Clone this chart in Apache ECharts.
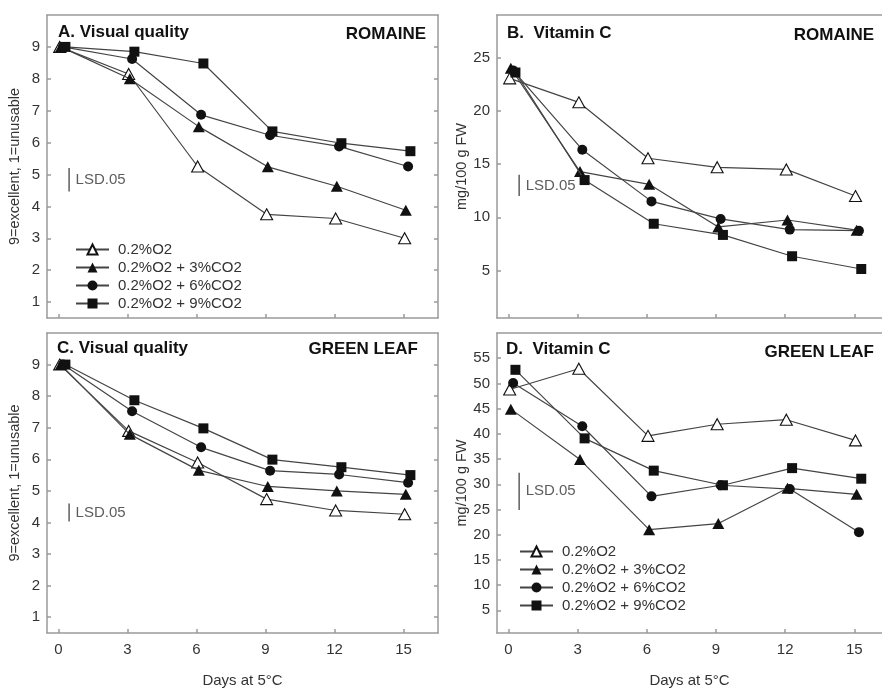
<!DOCTYPE html>
<html>
<head>
<meta charset="utf-8">
<script src="https://cdn.jsdelivr.net/npm/echarts@6/dist/echarts.min.js"></script>
<style>
html, body { margin: 0; padding: 0; background: #fff; }
#main { width: 882px; height: 689px; }
</style>
</head>
<body>
<div id="main"></div>
<script>
// ---- data ----
var seriesNames = ['0.2%O2', '0.2%O2 + 3%CO2', '0.2%O2 + 6%CO2', '0.2%O2 + 9%CO2'];
var days = [0, 3, 6, 9, 12, 15];
var dayShift = [0.05, 0.1, 0.2, 0.3];   // treatments are drawn slightly apart on the x axis

var qualityTicks = [1, 2, 3, 4, 5, 6, 7, 8, 9];
var vitRomTicks = [5, 10, 15, 20, 25];
var vitGreenTicks = [5, 10, 15, 20, 25, 30, 35, 40, 45, 50, 55];

// A. visual quality, romaine
var romQualO2 = [9, 8.15, 5.25, 3.75, 3.62, 3.0];
var romQualCO3 = [9, 8.0, 6.5, 5.24, 4.63, 3.88];
var romQualCO6 = [9, 8.62, 6.87, 6.23, 5.88, 5.25];
var romQualCO9 = [9, 8.85, 8.48, 6.35, 5.98, 5.73];

// B. vitamin C, romaine
var romVitO2 = [23.05, 20.8, 15.55, 14.7, 14.5, 12.0];
var romVitCO3 = [24.0, 14.3, 13.1, 9.1, 9.75, 8.8];
var romVitCO6 = [23.8, 16.35, 11.5, 9.85, 8.85, 8.75];
var romVitCO9 = [23.6, 13.5, 9.4, 8.35, 6.35, 5.15];

// C. visual quality, green leaf
var greQualO2 = [9, 6.9, 5.9, 4.74, 4.38, 4.26];
var greQualCO3 = [9, 6.79, 5.65, 5.14, 5.0, 4.89];
var greQualCO6 = [9, 7.52, 6.38, 5.64, 5.52, 5.26];
var greQualCO9 = [9, 7.87, 6.98, 5.99, 5.75, 5.5];

// D. vitamin C, green leaf
var greVitO2 = [48.8, 52.9, 39.6, 41.9, 42.8, 38.7];
var greVitCO3 = [44.9, 34.9, 21.0, 22.2, 29.2, 28.0];
var greVitCO6 = [50.1, 41.5, 27.6, 29.8, 29.05, 20.5];
var greVitCO9 = [52.7, 39.1, 32.7, 29.8, 33.2, 31.1];

// LSD.05 bar lengths and where their lower end sits
var lsdValues = [0.73, 2.0, 0.57, 7.4];
var lsdBase = [4.47, 12.0, 4.03, 24.9];

// ---- layout ----
var FONT = '"Liberation Sans", Arial, sans-serif';
var TXT = '#333';
var FRAME = '#9a9a9a';

// right-hand panels run off the edge of the picture, so no right border there
var panels = [
  { left: 47, top: 15, width: 391, height: 303, yMin: 0.5, yMax: 10, xMax: 16.5, ticks: qualityTicks,
    showX: false, rightEdge: true, yName: '9=excellent, 1=unusable', lists: [romQualO2, romQualCO3, romQualCO6, romQualCO9] },
  { left: 497, top: 15, width: 385, height: 303, yMin: 0.55, yMax: 29, xMax: 16.2, ticks: vitRomTicks,
    showX: false, rightEdge: false, yName: 'mg/100 g FW', lists: [romVitO2, romVitCO3, romVitCO6, romVitCO9] },
  { left: 47, top: 333, width: 391, height: 303, yMin: 0.5, yMax: 10, xMax: 16.5, ticks: qualityTicks,
    showX: true, rightEdge: true, yName: '9=excellent, 1=unusable', lists: [greQualO2, greQualCO3, greQualCO6, greQualCO9] },
  { left: 497, top: 333, width: 385, height: 303, yMin: 0.5, yMax: 60, xMax: 16.2, ticks: vitGreenTicks,
    showX: true, rightEdge: false, yName: 'mg/100 g FW', lists: [greVitO2, greVitCO3, greVitCO6, greVitCO9] }
];

var symbols = ['triangle', 'triangle', 'circle', 'rect'];
var symbolSizes = [[12, 11], [12, 11], 10, 10];
var fills = ['#fff', '#111', '#111', '#111'];

var frameLine = { show: true, onZero: false, lineStyle: { color: FRAME, width: 1.5 } };
var grids = [], xAxes = [], yAxes = [], series = [];

panels.forEach(function (p, i) {
  grids.push({ left: p.left, top: p.top, width: p.width, height: p.height });
  // bottom axis
  xAxes.push({
    gridIndex: i, type: 'value', min: -0.5, max: p.xMax, position: 'bottom',
    axisLine: frameLine,
    splitLine: { show: false },
    axisTick: { inside: true, length: 4, customValues: days, lineStyle: { color: FRAME, width: 1.5 } },
    axisLabel: { show: p.showX, customValues: days, margin: 9, color: TXT, fontSize: 15, fontFamily: FONT },
    name: p.showX ? 'Days at 5°C' : '',
    nameLocation: 'middle', nameGap: 40,
    nameTextStyle: { color: TXT, fontSize: 15, fontFamily: FONT }
  });
  // top border only
  xAxes.push({
    gridIndex: i, type: 'value', min: -0.5, max: p.xMax, position: 'top',
    axisLine: frameLine, axisTick: { show: false }, axisLabel: { show: false }, splitLine: { show: false }
  });
  yAxes.push({
    gridIndex: i, type: 'value', min: p.yMin, max: p.yMax, position: 'left',
    axisLine: frameLine,
    splitLine: { show: false },
    axisTick: { inside: true, length: 4, customValues: p.ticks, lineStyle: { color: FRAME, width: 1.5 } },
    axisLabel: { customValues: p.ticks, margin: 7, color: TXT, fontSize: 15, fontFamily: FONT },
    name: p.yName, nameLocation: 'middle', nameGap: 25, nameRotate: 90,
    nameTextStyle: { color: TXT, fontSize: 14.5, fontFamily: FONT }
  });
  yAxes.push({
    gridIndex: i, type: 'value', min: p.yMin, max: p.yMax, position: 'right',
    axisLine: { show: p.rightEdge, onZero: false, lineStyle: { color: FRAME, width: 1.5 } },
    splitLine: { show: false },
    axisTick: { show: p.rightEdge, inside: true, length: 4, customValues: p.ticks, lineStyle: { color: FRAME, width: 1.5 } },
    axisLabel: { show: false }
  });

  p.lists.forEach(function (vals, s) {
    series.push({
      name: seriesNames[s], type: 'line',
      xAxisIndex: 2 * i, yAxisIndex: 2 * i,
      data: days.map(function (d, k) { return [d + dayShift[s], vals[k]]; }),
      symbol: symbols[s], symbolSize: symbolSizes[s],
      lineStyle: { color: '#444', width: 1.2 },
      itemStyle: { color: fills[s], borderColor: '#111', borderWidth: s === 0 ? 1.1 : 0 },
      z: 3 + s,
      animation: false
    });
  });

  // LSD.05 bar
  series.push({
    type: 'line', xAxisIndex: 2 * i, yAxisIndex: 2 * i, silent: true,
    data: [[0.46, lsdBase[i]], [0.46, lsdBase[i] + lsdValues[i]]],
    symbol: 'none', lineStyle: { color: '#444', width: 1.3 }, animation: false
  });
  series.push({
    type: 'scatter', xAxisIndex: 2 * i, yAxisIndex: 2 * i, silent: true,
    data: [[0.46, lsdBase[i] + lsdValues[i] / 2]],
    symbolSize: 1, itemStyle: { color: 'rgba(0,0,0,0)' },
    label: { show: true, position: 'right', distance: 6, formatter: 'LSD.05',
      color: TXT, fontSize: 15, fontFamily: FONT },
    animation: false
  });
});

function titleText(x, y, text, align) {
  return {
    type: 'text', x: x, y: y,
    style: { text: text, fill: '#111', font: 'bold 17px ' + FONT, textAlign: align, textVerticalAlign: 'middle' }
  };
}

var legendBase = {
  orient: 'vertical', padding: 0, itemWidth: 33, itemHeight: 12.5, itemGap: 3,
  data: seriesNames,
  textStyle: { color: TXT, fontSize: 15, fontFamily: FONT, padding: [0, 0, 0, 4] }
};

var option = {
  backgroundColor: '#fff',
  animation: false,
  grid: grids,
  xAxis: xAxes,
  yAxis: yAxes,
  legend: [
    Object.assign({ left: 75, top: 242 }, legendBase),
    Object.assign({ left: 519, top: 544 }, legendBase)
  ],
  graphic: [
    titleText(58, 32, 'A. Visual quality', 'left'),
    titleText(426, 34, 'ROMAINE', 'right'),
    titleText(507, 33, 'B.  Vitamin C', 'left'),
    titleText(874, 35, 'ROMAINE', 'right'),
    titleText(57, 348, 'C. Visual quality', 'left'),
    titleText(418, 349, 'GREEN LEAF', 'right'),
    titleText(506, 349, 'D.  Vitamin C', 'left'),
    titleText(874, 352, 'GREEN LEAF', 'right')
  ],
  series: series
};

var chart = echarts.init(document.getElementById('main'));
chart.setOption(option);
</script>
</body>
</html>
